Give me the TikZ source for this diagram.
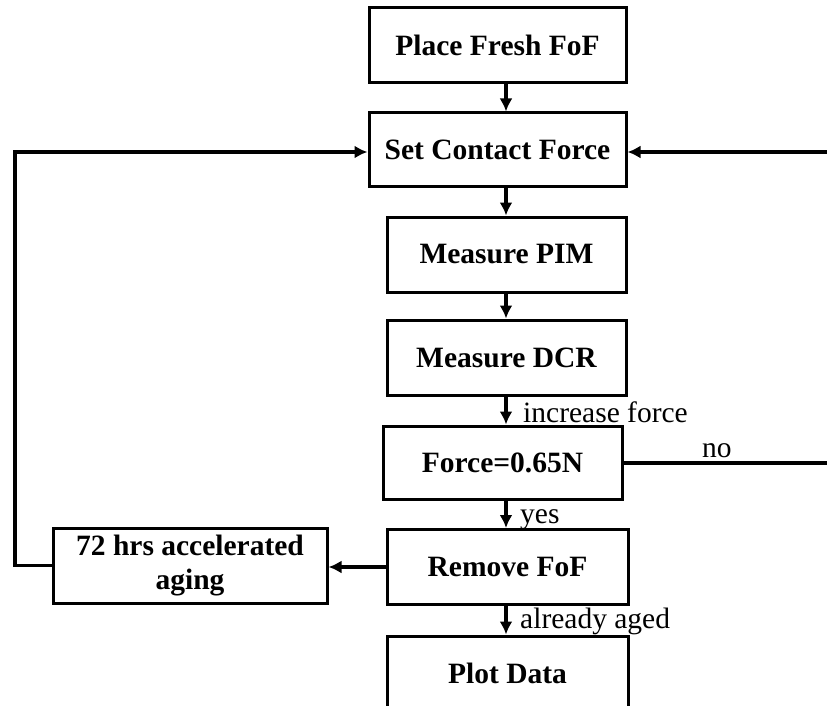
\documentclass[tikz,border=0pt]{standalone}
\usepackage{fontspec}
\setmainfont{Liberation Serif}
\usepackage{tikz}
\usetikzlibrary{arrows.meta}

\tikzset{
	stepbox/.style={draw, line width=3pt, inner sep=0pt, minimum width=239pt, minimum height=75pt,
		align=center, font=\fontsize{29.5}{34}\selectfont\bfseries},
	flow/.style={line width=3.5pt, -{Latex[length=13pt,width=13pt]}},
	lbl/.style={inner sep=0pt, anchor=base west, font=\fontsize{29.5}{34}\selectfont},
}

\begin{document}
\begin{tikzpicture}[x=1pt,y=-1pt]
		\useasboundingbox (0,0) rectangle (827,706);
		\clip (0,0) rectangle (827,706);

		% main column
		\node[stepbox, minimum width=257pt] (place) at (497.5,45.5) {Place Fresh FoF};
		\node[stepbox, minimum width=257pt, minimum height=73pt] (setf) at (497.5,149.5) {Set Contact Force};
		\node[stepbox] (pim) at (506.5,254.5) {Measure PIM};
		\node[stepbox] (dcr) at (506.5,357.5) {Measure DCR};
		\node[stepbox, minimum height=73pt] (force) at (502.5,462.5) {Force=0.65N};
		\node[stepbox, minimum width=241pt] (remove) at (507.5,567) {Remove FoF};
		\node[stepbox, minimum width=241pt] (plot) at (507.5,673.5) {Plot Data};

		% aging branch
		\node[stepbox, minimum width=274pt] (aging) at (190,565.5) {72 hrs accelerated\\aging};

		\coordinate (spine) at (506,0);
		\coordinate (loop) at (15,152);
		\coordinate (rin) at (827,152);
		\coordinate (rout) at (827,463);

		\draw[flow] (place.south -| spine) -- (setf.north -| spine);
		\draw[flow] (setf.south -| spine) -- (pim.north -| spine);
		\draw[flow] (pim.south -| spine) -- (dcr.north -| spine);
		\draw[flow] (dcr.south -| spine) -- (force.north -| spine);
		\draw[flow] (force.south -| spine) -- (remove.north -| spine);
		\draw[flow] (remove.south -| spine) -- (plot.north -| spine);

		\draw[flow] (rin) -- (rin -| setf.east);
		\draw[line width=3.5pt] (force.east |- rout) -- (rout);
		\draw[flow] (remove.west) -- (remove.west -| aging.east);
		\draw[flow] (aging.west) -| (loop) -- (loop -| setf.west);

		% labels
		\node[lbl] (inc) at (523,422) {increase force};
		\node[lbl] (no) at (702,457) {no};
		\node[lbl] (yes) at (520,523) {yes};
		\node[lbl] (aged) at (520,628) {already aged};
\end{tikzpicture}
\end{document}
